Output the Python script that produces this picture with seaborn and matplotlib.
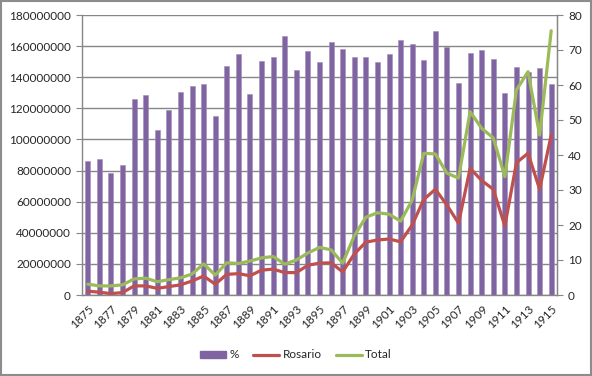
import matplotlib
matplotlib.use("Agg")
import matplotlib.pyplot as plt
import matplotlib.patches as mpatches
import matplotlib.lines as mlines
import numpy as np
import pandas as pd
import seaborn as sns

years = list(range(1875, 1916))

# bars (left axis)
pct = [86.1e6, 87.2e6, 78.4e6, 83.8e6, 125.8e6, 128.4e6, 105.9e6, 119.2e6, 130.5e6, 134.6e6,
       135.9e6, 115.3e6, 147.4e6, 154.7e6, 129.0e6, 150.2e6, 152.8e6, 166.3e6, 144.4e6, 156.9e6,
       149.6e6, 162.6e6, 158.4e6, 152.8e6, 152.8e6, 149.6e6, 154.7e6, 163.7e6, 161.6e6, 151.3e6,
       169.9e6, 159.4e6, 136.3e6, 155.8e6, 157.5e6, 151.8e6, 129.6e6, 146.4e6, 143.6e6, 146.0e6,
       135.9e6]

# lines (right axis)
rosario = [1.1, 0.8, 0.4, 0.7, 2.6, 2.6, 1.9, 2.4, 2.9, 4.0,
           5.4, 3.1, 5.9, 6.1, 5.5, 7.1, 7.4, 6.4, 6.4, 8.5,
           9.1, 9.2, 6.6, 11.7, 15.1, 15.7, 16.0, 15.2, 20.0, 27.3,
           30.2, 25.7, 20.5, 36.2, 32.7, 30.2, 19.7, 37.8, 40.5, 30.2,
           45.7]
total = [3.1, 2.6, 2.6, 2.9, 4.6, 4.8, 3.8, 4.4, 4.9, 6.0,
         8.9, 5.7, 9.2, 9.0, 9.7, 10.6, 11.0, 8.8, 10.0, 12.0,
         13.6, 12.9, 9.1, 16.9, 22.2, 23.5, 23.1, 21.1, 27.1, 40.5,
         40.3, 34.8, 33.4, 52.4, 47.6, 44.9, 33.8, 58.6, 63.8, 45.7,
         75.5]

PURPLE = "#8064A2"
RED = "#C0504D"
GREEN = "#9BBB59"
GRID = "#868686"

sns.set_style("white")
plt.rcParams["font.family"] = ["Lato", "DejaVu Sans"]

df = pd.DataFrame({"year": [str(y) for y in years], "pct": pct})
pos = np.arange(len(years))

fig = plt.figure(figsize=(5.92, 3.76), dpi=100)
ax = fig.add_axes([82 / 592, 1 - 295 / 376, 475 / 592, 280 / 376])

sns.barplot(data=df, x="year", y="pct", color=PURPLE, saturation=1, width=0.43,
            edgecolor="#A08CBC", linewidth=0.4, ax=ax)
ax.set_xlim(-0.5, len(years) - 0.5)
ax.set_ylim(0, 180e6)
ax.set_yticks(np.arange(0, 180e6 + 1, 20e6))
ax.set_yticklabels([f"{int(v)}" for v in np.arange(0, 180e6 + 1, 20e6)], fontsize=8.5)
ax.yaxis.grid(True, color=GRID, linewidth=1.0)
ax.set_axisbelow(True)
ax.set_xlabel("")
ax.set_ylabel("")

ax.set_xticks(pos[::2])
ax.set_xticklabels([str(y) for y in years[::2]], rotation=45, ha="right",
                   rotation_mode="anchor", fontsize=8.5)
ax.set_xticks(np.arange(-0.5, len(years), 1), minor=True)
ax.tick_params(axis="x", which="major", length=0, pad=6)
ax.tick_params(axis="x", which="minor", length=4, color=GRID, direction="out")
ax.tick_params(axis="y", length=4, color=GRID, direction="out", pad=4, left=True)

for s in ["top"]:
    ax.spines[s].set_visible(False)
for s in ["left", "bottom", "right"]:
    ax.spines[s].set_color(GRID)
    ax.spines[s].set_linewidth(1.0)

ax2 = ax.twinx()
sns.lineplot(x=pos, y=rosario, color=RED, linewidth=2.3, ax=ax2,
             solid_joinstyle="round", solid_capstyle="round")
sns.lineplot(x=pos, y=total, color=GREEN, linewidth=2.3, ax=ax2,
             solid_joinstyle="round", solid_capstyle="round")
ax2.set_ylim(0, 80)
ax2.set_yticks(np.arange(0, 81, 10))
ax2.set_yticklabels([str(v) for v in range(0, 81, 10)], fontsize=8.5)
ax2.tick_params(axis="y", length=4, color=GRID, direction="out", pad=4, right=True)
ax2.spines["top"].set_visible(False)
ax2.spines["left"].set_visible(False)
ax2.spines["bottom"].set_visible(False)
ax2.spines["right"].set_color(GRID)
ax2.grid(False)
ax2.set_xlim(-0.5, len(years) - 0.5)

handles = [
    mpatches.Patch(facecolor=PURPLE, edgecolor=PURPLE, label="%"),
    mlines.Line2D([], [], color=RED, linewidth=2.3, label="Rosario"),
    mlines.Line2D([], [], color=GREEN, linewidth=2.3, label="Total"),
]
fig.legend(handles=handles, loc="center", bbox_to_anchor=(0.5, 1 - 355 / 376),
           ncol=3, frameon=False, fontsize=8.5, handlelength=2.2,
           handleheight=0.6, columnspacing=1.2, handletextpad=0.3)

fig.patches.append(mpatches.Rectangle((0.002, 0.003), 0.996, 0.994, transform=fig.transFigure,
                                      fill=False, edgecolor="#8C8C8C", linewidth=1.5))

fig.savefig("out.png", dpi=100)
